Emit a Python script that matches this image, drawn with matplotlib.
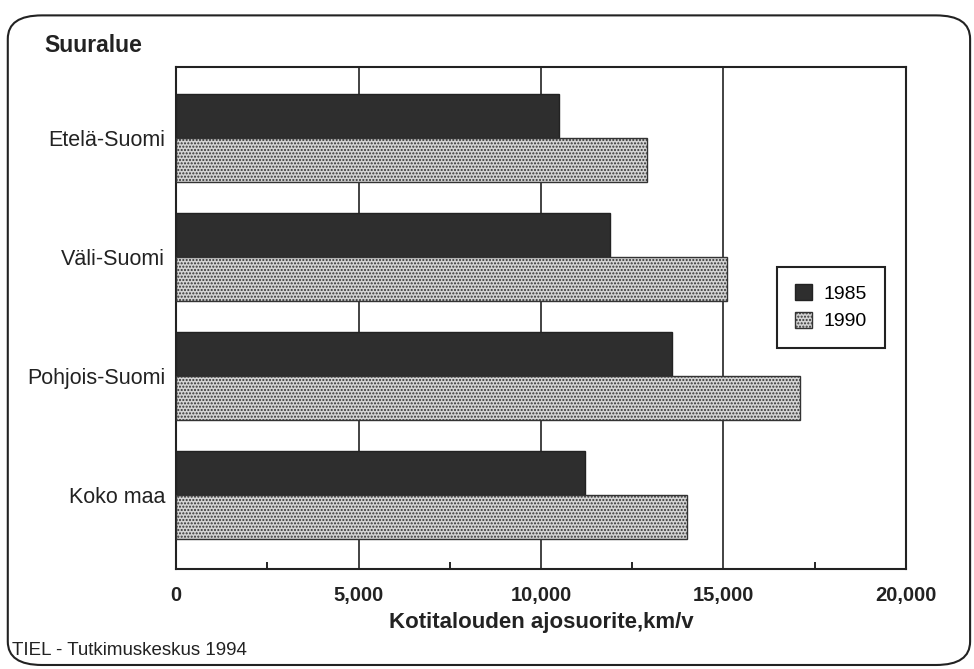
import numpy as np
import matplotlib.pyplot as plt
from matplotlib.patches import FancyBboxPatch, Patch

regions = ['Etelä-Suomi', 'Väli-Suomi', 'Pohjois-Suomi', 'Koko maa']
km_1985 = [10500, 11900, 13600, 11200]
km_1990 = [12900, 15100, 17100, 14000]
x_ticks = [0, 5000, 10000, 15000, 20000]
x_tick_labels = ['0', '5,000', '10,000', '15,000', '20,000']

plt.rcParams['font.family'] = ['Liberation Sans', 'DejaVu Sans']
plt.rcParams['hatch.linewidth'] = 1.0

fig = plt.figure(figsize=(9.74, 6.69), dpi=100)
ax = fig.add_axes([0.181, 0.1495, 0.749, 0.7505])

y = np.arange(len(regions))
h = 0.37
ax.barh(y - h / 2, km_1985, height=h, color='#2e2e2e', edgecolor='#222222',
        linewidth=1, zorder=3, label='1985')
ax.barh(y + h / 2, km_1990, height=h, color='#d4d4d4', edgecolor='#333333',
        hatch='.....', linewidth=1, zorder=3, label='1990')

# vertical gridlines at the major ticks
for v in x_ticks[1:-1]:
    ax.axvline(v, color='#222222', linewidth=1.2, zorder=1)

ax.set_xlim(0, 20000)
ax.set_ylim(len(regions) - 1 + 0.62, -0.6)
ax.set_xticks(x_ticks)
ax.set_xticklabels(x_tick_labels, fontsize=14.5, fontweight='bold', color='#222222')
ax.set_xticks([2500, 7500, 12500, 17500], minor=True)
ax.tick_params(axis='x', which='major', length=0, pad=12)
ax.tick_params(axis='x', which='minor', direction='in', length=5, width=1.2)
ax.set_yticks(y)
ax.set_yticklabels(regions, fontsize=15.5, color='#222222')
ax.tick_params(axis='y', length=0, pad=8)
for s in ax.spines.values():
    s.set_linewidth(1.5)
    s.set_color('#222222')

ax.set_xlabel('Kotitalouden ajosuorite,km/v', fontsize=16, fontweight='bold',
              color='#222222', labelpad=5)

fig.text(0.046, 0.932, 'Suuralue', fontsize=16.5, fontweight='bold', color='#222222',
         va='center')
fig.text(0.012, 0.028, 'TIEL - Tutkimuskeskus 1994', fontsize=13.5, color='#222222',
         va='center')

handles = [Patch(facecolor='#2e2e2e', edgecolor='#222222', label='1985'),
           Patch(facecolor='#d4d4d4', edgecolor='#333333', hatch='.....', label='1990')]
leg = fig.legend(handles=handles, loc='upper left', bbox_to_anchor=(0.788, 0.616),
                 fontsize=14, fancybox=False, framealpha=1, edgecolor='#222222',
                 handlelength=0.9, handleheight=0.9, handletextpad=0.6,
                 borderpad=0.9, labelspacing=0.45)
leg.get_frame().set_linewidth(1.5)

# rounded frame around the whole chart
frame = FancyBboxPatch((0.008, 0.006), 0.988, 0.971,
                       boxstyle='round,pad=0,rounding_size=0.035',
                       transform=fig.transFigure, fill=False, edgecolor='#222222',
                       linewidth=1.5)
fig.patches.append(frame)

fig.savefig('out.png', dpi=100)
